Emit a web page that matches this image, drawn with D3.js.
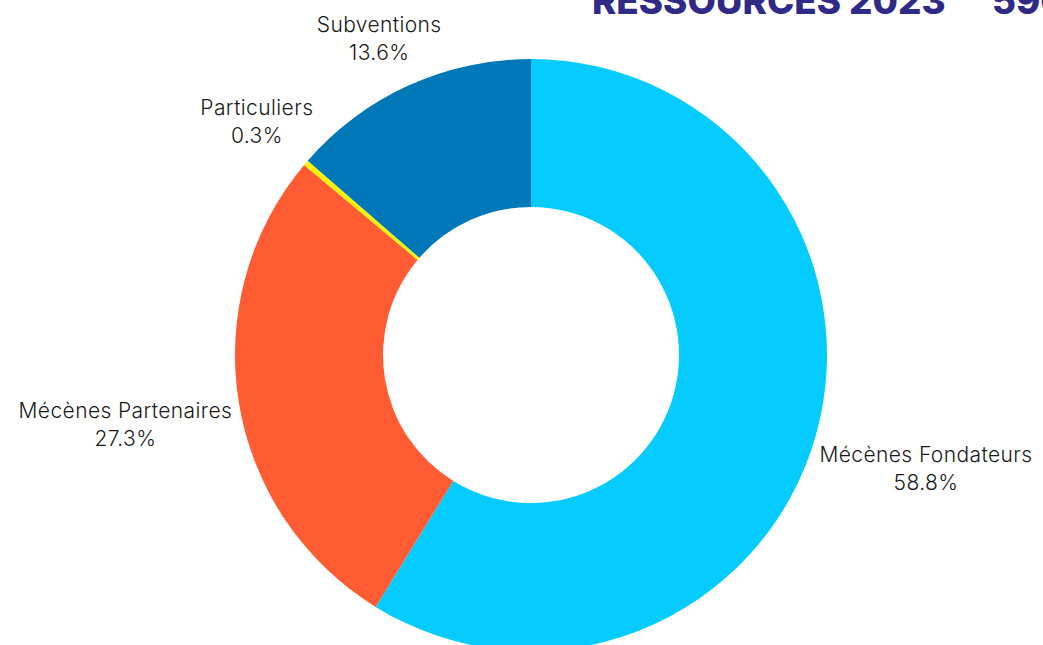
<!DOCTYPE html>
<html lang="fr">
<head>
  <meta charset="UTF-8">
  <title>Ressources 2023</title>
  <style>
    body { margin: 0; background: #fff; }
    svg { display: block; }
    .lbl { font-family: Inter, sans-serif; font-weight: 300; font-size: 21px; letter-spacing: 0.4px; fill: #1a1a1a; }
    .title { font-family: Inter, sans-serif; font-weight: 800; font-size: 36.8px; fill: #2e2a86; }
  </style>
</head>
<body>
  <svg id="svg" width="1043" height="645"></svg>
  <script src="https://d3js.org/d3.v7.min.js"></script>
  <script>
    const categories = ['Mécènes Fondateurs', 'Mécènes Partenaires', 'Particuliers', 'Subventions']
    const shares = [58.8, 27.3, 0.3, 13.6]
    const colors = ['#05cbff', '#ff5c33', '#fff200', '#0077b6']

    const data = categories.map((c, i) => ({ name: c, value: shares[i], color: colors[i] }))

    const svg = d3.select('#svg')
    const cx = 531, cy = 355
    const outer = 296, inner = 148

    svg.append('text')
      .attr('class', 'title')
      .attr('x', 592)
      .attr('y', 14)
      .text('RESSOURCES 2023')
    svg.append('text')
      .attr('class', 'title')
      .attr('x', 992)
      .attr('y', 14)
      .text('590 000 €')

    const pie = d3.pie().sort(null).value(d => d.value)
    const arc = d3.arc().innerRadius(inner).outerRadius(outer)
    const arcs = pie(data)

    const g = svg.append('g').attr('transform', `translate(${cx}, ${cy})`)
    g.selectAll('path')
      .data(arcs)
      .enter()
      .append('path')
      .attr('d', arc)
      .attr('fill', d => d.data.color)

    // labels outside, block pushed away from the ring along the mid angle
    const lineH = 28
    const labelRx = outer + 8
    const labelRy = outer + 20
    const lg = g.selectAll('g.label')
      .data(arcs)
      .enter()
      .append('g')
      .attr('class', 'label')

    lg.each(function (d) {
      const a = (d.startAngle + d.endAngle) / 2
      const px = labelRx * Math.sin(a)
      const py = -labelRy * Math.cos(a)
      const t = d3.select(this).append('text')
        .attr('class', 'lbl')
        .attr('text-anchor', 'middle')
      t.append('tspan').attr('x', 0).attr('y', -7).text(d.data.name)
      t.append('tspan').attr('x', 0).attr('y', -7 + lineH).text(d.data.value.toFixed(1) + '%')
      const w = this.getBBox().width
      const mx = px + Math.sin(a) * w / 2
      const my = py + Math.sign(py) * lineH / 2 * (Math.abs(Math.cos(a)) > 0.2 ? 2 : 1.4)
      d3.select(this).attr('transform', `translate(${mx}, ${my})`)
    })
  </script>
</body>
</html>
